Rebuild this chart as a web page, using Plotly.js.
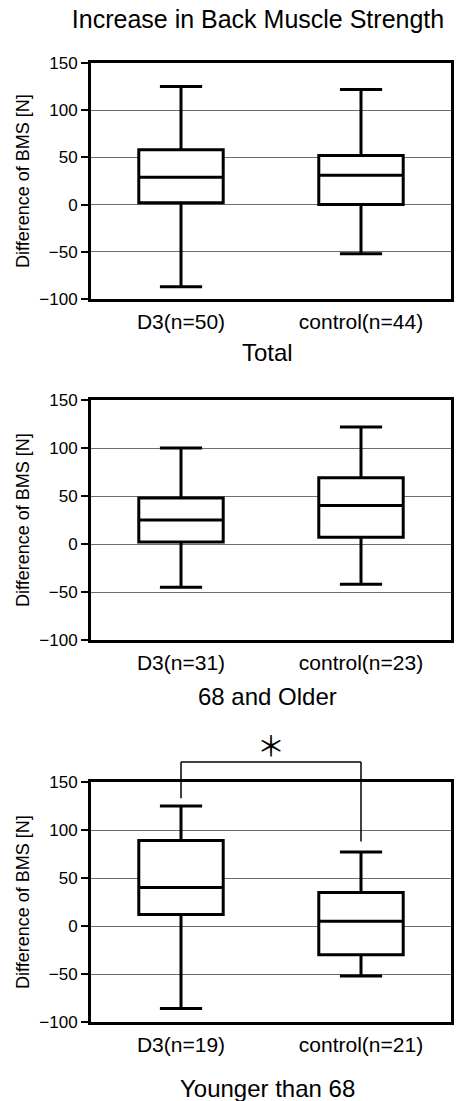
<!DOCTYPE html>
<html>
<head>
<meta charset="utf-8">
<script src="https://cdn.plot.ly/plotly-3.0.1.min.js"></script>
<style>html,body{margin:0;padding:0;background:#fff;}#chart{width:461px;height:1101px;}</style>
</head>
<body>
<div id="chart"></div>
<script>
// ---- data ----
var chartTitle = "Increase in Back Muscle Strength";
var panelTitles = ["Total", "68 and Older", "Younger than 68"];
var yAxisTitle = "Difference of BMS [N]";
var yTicks = [-100, -50, 0, 50, 100, 150];

var catsTotal = ["D3(n=50)", "control(n=44)"];
var catsOlder = ["D3(n=31)", "control(n=23)"];
var catsYounger = ["D3(n=19)", "control(n=21)"];

var upperTotal = [125, 122];
var q3Total = [58, 52];
var medianTotal = [29, 31];
var q1Total = [2, 0];
var lowerTotal = [-87, -52];

var upperOlder = [100, 122];
var q3Older = [48, 69];
var medianOlder = [25, 40];
var q1Older = [2, 7];
var lowerOlder = [-45, -42];

var upperYounger = [125, 77];
var q3Younger = [89, 35];
var medianYounger = [40, 5];
var q1Younger = [12, -30];
var lowerYounger = [-86, -52];

// significance bracket (Younger than 68): lower ends of the two legs
var bracketLegEnds = [133, 88];
var sigMark = "＊";

// ---- layout helpers ----
var W = 461, H = 1101;
var FONT = "Liberation Sans, Arial, Helvetica, sans-serif";
var yMin = -100, yMax = 150;
var xDom = [91 / W, 451 / W];
var panelsPx = [[63, 299], [400, 640], [782, 1022]]; // top, bottom px
function dom(p) { return [(H - p[1]) / H, (H - p[0]) / H]; }

function boxTrace(x, lo, q1, med, q3, hi, xa, ya) {
  return {
    type: "box", x: x, lowerfence: lo, q1: q1, median: med, q3: q3, upperfence: hi,
    xaxis: xa, yaxis: ya, boxpoints: false, whiskerwidth: 0.5,
    fillcolor: "#ffffff", line: { color: "#000000", width: 3 },
    showlegend: false, hoverinfo: "skip"
  };
}

var data = [
  boxTrace(catsTotal, lowerTotal, q1Total, medianTotal, q3Total, upperTotal, "x", "y"),
  boxTrace(catsOlder, lowerOlder, q1Older, medianOlder, q3Older, upperOlder, "x2", "y2"),
  boxTrace(catsYounger, lowerYounger, q1Younger, medianYounger, q3Younger, upperYounger, "x3", "y3")
];

function xAxis(anchor, cats) {
  return {
    domain: xDom, anchor: anchor, type: "category", categoryorder: "array", categoryarray: cats,
    range: [-0.5, 1.5], showline: true, mirror: true, linecolor: "#000", linewidth: 3,
    ticks: "", showgrid: false, zeroline: false, fixedrange: true,
    tickfont: { family: FONT, size: 21, color: "#000" }, ticklabelstandoff: 2
  };
}
function yAxis(anchor, p) {
  return {
    domain: dom(p), anchor: anchor, range: [yMin, yMax], tickmode: "array", tickvals: yTicks,
    showline: true, mirror: true, linecolor: "#000", linewidth: 3,
    ticks: "outside", ticklen: 7, tickwidth: 2, tickcolor: "#000",
    showgrid: true, gridcolor: "#6e6e6e", gridwidth: 1, zeroline: false, fixedrange: true,
    tickfont: { family: FONT, size: 17, color: "#000" }
  };
}

function frac(v) { return (v - yMin) / (yMax - yMin); }
var bracketTop = 1 + 20 / 240;

var annotations = [];
var subY = [352, 696, 1088];
panelTitles.forEach(function (t, i) {
  annotations.push({ text: t, xref: "paper", yref: "paper", x: 267 / W, y: 1 - subY[i] / H,
    xanchor: "center", yanchor: "middle", showarrow: false, font: { family: FONT, size: 24, color: "#000" } });
  var p = panelsPx[i];
  annotations.push({ text: yAxisTitle, xref: "paper", yref: "paper", x: 23 / W, y: 1 - (p[0] + p[1]) / 2 / H,
    xanchor: "center", yanchor: "middle", textangle: -90, showarrow: false, font: { family: FONT, size: 18, color: "#000" } });
});
annotations.push({ text: sigMark, xref: "x3", yref: "y3 domain", x: 0.5, y: 1 + 37 / 240,
  xanchor: "center", yanchor: "middle", showarrow: false, font: { family: "Noto Sans CJK JP", size: 28, color: "#000" } });

var bl = { color: "#000", width: 1.5 };
var shapes = [
  { type: "line", xref: "x3", yref: "y3 domain", x0: 0, x1: 0, y0: frac(bracketLegEnds[0]), y1: bracketTop, line: bl },
  { type: "line", xref: "x3", yref: "y3 domain", x0: 1, x1: 1, y0: frac(bracketLegEnds[1]), y1: bracketTop, line: bl },
  { type: "line", xref: "x3", yref: "y3 domain", x0: 0, x1: 1, y0: bracketTop, y1: bracketTop, line: bl }
];

var layout = {
  width: W, height: H, margin: { l: 0, r: 0, t: 0, b: 0 },
  paper_bgcolor: "#fff", plot_bgcolor: "#fff", showlegend: false,
  boxgap: 0.33,
  font: { family: FONT, color: "#000" },
  title: { text: chartTitle, x: 258 / W, xanchor: "center", y: 1 - 19 / H, yanchor: "middle",
    font: { family: FONT, size: 25, color: "#000" } },
  xaxis: xAxis("y", catsTotal), yaxis: yAxis("x", panelsPx[0]),
  xaxis2: xAxis("y2", catsOlder), yaxis2: yAxis("x2", panelsPx[1]),
  xaxis3: xAxis("y3", catsYounger), yaxis3: yAxis("x3", panelsPx[2]),
  annotations: annotations, shapes: shapes
};

Plotly.newPlot("chart", data, layout, { displayModeBar: false, staticPlot: true });
</script>
</body>
</html>
